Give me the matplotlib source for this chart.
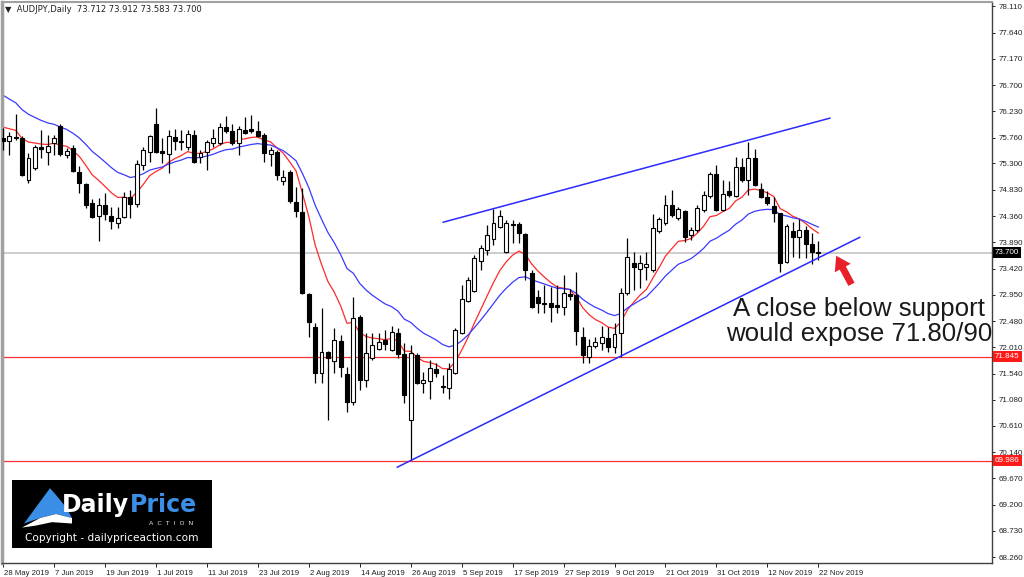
import numpy as np
import matplotlib
matplotlib.use("Agg")
import matplotlib.pyplot as plt
import matplotlib.transforms as mtransforms
from matplotlib.patches import Rectangle, Polygon

# daily AUDJPY candles, 28 May 2019 .. 22 Nov 2019
opens = [75.76, 75.70, 75.77, 75.76, 75.00, 75.22, 75.59, 75.50, 75.67, 75.97,
         75.45, 75.58, 75.15, 74.93, 74.59, 74.36, 74.56, 74.36, 74.24, 74.34,
         74.70, 74.57, 75.27, 75.50, 76.01, 75.52, 75.47, 75.77, 75.70, 75.59,
         75.81, 75.41, 75.50, 75.67, 75.67, 75.95, 75.88, 75.67, 75.90, 75.92,
         75.88, 75.81, 75.47, 75.50, 74.99, 75.15, 74.61, 74.43, 72.97, 72.38,
         71.55, 71.93, 71.77, 72.12, 71.54, 71.03, 72.55, 71.43, 71.82, 71.98,
         72.14, 71.97, 72.27, 71.89, 70.71, 71.87, 71.37, 71.41, 71.62, 71.32,
         71.29, 71.55, 72.27, 72.84, 73.02, 73.56, 73.75, 73.95, 74.16, 73.72,
         74.22, 74.22, 74.04, 73.34, 72.91, 72.80, 72.80, 72.77, 72.73, 72.97,
         72.95, 72.20, 71.84, 72.04, 72.09, 72.18, 72.02, 72.27, 72.98, 73.52,
         73.41, 73.45, 73.40, 74.09, 74.24, 74.56, 74.32, 74.45, 74.02, 74.11,
         74.47, 74.72, 75.11, 74.47, 74.81, 74.72, 75.24, 75.00, 75.40, 74.84,
         74.70, 74.54, 74.41, 73.54, 74.09, 73.99, 74.11, 73.86, 73.712]
highs = [75.94, 75.86, 76.18, 75.79, 75.49, 75.63, 75.90, 75.81, 75.81, 76.01,
         75.58, 75.63, 75.25, 74.95, 74.66, 74.68, 74.77, 74.52, 74.52, 74.79,
         74.83, 75.36, 75.59, 75.81, 76.29, 75.76, 75.90, 75.92, 75.90, 75.90,
         75.90, 75.54, 75.72, 75.92, 76.02, 76.15, 76.01, 75.97, 76.13, 76.17,
         76.06, 75.84, 75.59, 75.54, 75.18, 75.18, 74.88, 74.86, 72.98, 72.45,
         72.72, 71.95, 72.36, 72.23, 71.66, 72.91, 72.59, 72.27, 72.27, 72.27,
         72.32, 72.39, 72.36, 72.09, 72.05, 71.91, 71.57, 71.79, 71.73, 71.52,
         71.73, 72.36, 73.13, 73.27, 73.66, 73.84, 74.20, 74.49, 74.47, 74.29,
         74.29, 74.25, 74.06, 73.40, 73.04, 73.13, 73.09, 73.13, 73.31, 73.06,
         73.36, 72.38, 72.16, 72.20, 72.39, 72.38, 72.45, 73.07, 73.97, 73.72,
         73.66, 73.72, 74.40, 74.34, 74.74, 74.83, 74.52, 74.47, 74.16, 74.56,
         74.81, 75.15, 75.27, 75.00, 74.99, 75.42, 75.40, 75.68, 75.56, 74.95,
         74.81, 74.70, 74.41, 74.22, 74.25, 74.31, 74.18, 74.06, 73.912]
lows = [75.54, 75.45, 75.72, 75.07, 74.95, 75.18, 75.40, 75.27, 75.45, 75.43,
        75.40, 75.15, 74.77, 74.50, 74.32, 73.91, 74.29, 74.13, 74.15, 74.32,
        74.32, 74.52, 75.18, 75.32, 75.49, 75.31, 75.13, 75.54, 75.54, 75.54,
        75.31, 75.31, 75.18, 75.59, 75.63, 75.84, 75.63, 75.45, 75.83, 75.84,
        75.77, 75.32, 75.25, 75.00, 74.92, 74.59, 74.34, 72.97, 72.20, 71.37,
        71.37, 70.71, 71.55, 71.48, 70.86, 70.98, 71.25, 71.30, 71.79, 71.97,
        71.97, 71.95, 71.82, 71.02, 69.99, 71.36, 71.19, 71.09, 71.48, 71.19,
        71.09, 71.54, 72.25, 72.82, 73.00, 73.40, 73.66, 73.84, 74.15, 73.70,
        73.88, 73.88, 73.22, 72.72, 72.63, 72.63, 72.47, 72.63, 72.59, 72.86,
        72.05, 71.73, 71.73, 72.00, 71.97, 71.93, 71.91, 71.84, 72.95, 73.04,
        73.07, 73.22, 73.36, 74.06, 74.20, 74.34, 74.29, 73.90, 73.93, 74.07,
        74.43, 74.68, 74.45, 74.45, 74.70, 74.70, 74.97, 74.74, 74.90, 74.68,
        74.56, 74.25, 73.36, 73.52, 73.63, 73.61, 73.61, 73.50, 73.583]
closes = [75.70, 75.79, 75.76, 75.09, 75.40, 75.59, 75.56, 75.61, 75.76, 75.47,
          75.52, 75.17, 74.95, 74.56, 74.34, 74.56, 74.40, 74.27, 74.32, 74.70,
          74.57, 75.29, 75.54, 75.79, 75.50, 75.49, 75.79, 75.70, 75.68, 75.83,
          75.32, 75.49, 75.68, 75.76, 75.95, 75.88, 75.67, 75.92, 75.84, 75.88,
          75.79, 75.49, 75.54, 75.09, 75.06, 74.63, 74.45, 72.98, 72.47, 71.55,
          71.93, 71.82, 72.14, 71.66, 71.03, 72.54, 71.43, 71.91, 72.05, 72.11,
          72.07, 72.29, 71.89, 71.16, 71.91, 71.37, 71.43, 71.64, 71.55, 71.30,
          71.62, 72.32, 72.88, 73.22, 73.61, 73.79, 74.02, 74.24, 74.36, 74.24,
          74.20, 74.06, 73.40, 72.73, 72.80, 72.79, 72.73, 72.73, 72.98, 72.93,
          72.30, 71.88, 72.04, 72.11, 72.20, 72.02, 72.25, 72.98, 73.63, 73.45,
          73.52, 73.50, 74.15, 74.31, 74.56, 74.38, 74.49, 73.99, 74.11, 74.50,
          74.74, 75.11, 74.47, 74.75, 74.74, 75.24, 75.00, 75.40, 74.92, 74.70,
          74.59, 74.41, 73.52, 74.18, 73.99, 74.11, 73.86, 73.71, 73.700]

# moving averages (EMA 10 red, EMA 20 blue), values at the first bar
ema_fast_period, ema_fast_start = 10, 75.95
ema_slow_period, ema_slow_start = 20, 76.52

date_labels = ["28 May 2019", "7 Jun 2019", "19 Jun 2019", "1 Jul 2019", "11 Jul 2019",
               "23 Jul 2019", "2 Aug 2019", "14 Aug 2019", "26 Aug 2019", "5 Sep 2019",
               "17 Sep 2019", "27 Sep 2019", "9 Oct 2019", "21 Oct 2019", "31 Oct 2019",
               "12 Nov 2019", "22 Nov 2019"]
price_ticks = [78.110, 77.640, 77.170, 76.700, 76.230, 75.760, 75.300, 74.830, 74.360,
               73.890, 73.420, 72.950, 72.480, 72.010, 71.540, 71.080, 70.610, 70.140,
               69.670, 69.200, 68.730, 68.260]

last_price = 73.700
levels = [71.845, 69.986]

# trendlines (bar index, price)
upper_line_x = [69.1, 129.8]
upper_line_y = [74.25, 76.11]
lower_line_x = [61.9, 134.5]
lower_line_y = [69.87, 73.98]


def ema(values, period, start):
    a = 2.0 / (period + 1)
    out = [start]
    for v in values[1:]:
        out.append(out[-1] + a * (v - out[-1]))
    return out


W, H = 1024, 577
fig = plt.figure(figsize=(W / 100, H / 100), dpi=100)
fig.patch.set_facecolor("white")
ax = fig.add_axes([2 / W, 14 / H, 990 / W, 561 / H])

o = np.array(opens)
hi = np.array(highs)
lo = np.array(lows)
c = np.array(closes)
x = np.arange(len(c))

# candles
ax.vlines(x, lo, hi, color="black", lw=0.9, zorder=3)
up = c >= o
body_lo = np.minimum(o, c)
body_h = np.maximum(np.abs(c - o), 0.008)
ax.bar(x[up], body_h[up], bottom=body_lo[up], width=0.62, facecolor="white",
       edgecolor="black", linewidth=0.8, zorder=4)
ax.bar(x[~up], body_h[~up], bottom=body_lo[~up], width=0.62, facecolor="black",
       edgecolor="black", linewidth=0.8, zorder=4)

# moving averages
ax.plot(x, ema(closes, ema_fast_period, ema_fast_start), color="#ff2a2a", lw=0.9, zorder=2)
ax.plot(x, ema(closes, ema_slow_period, ema_slow_start), color="#3a3aff", lw=0.9, zorder=2)

# horizontal levels
ax.axhline(last_price, color="#c8c8c8", lw=1.3, zorder=1)
for lv in levels:
    ax.axhline(lv, color="#ff3030", lw=0.9, zorder=1)

# trendlines
ax.plot(upper_line_x, upper_line_y, color="#2a2aff", lw=1.1, zorder=5)
ax.plot(lower_line_x, lower_line_y, color="#2a2aff", lw=1.1, zorder=5)

ax.set_xlim(-0.16, 155.26)
ax.set_ylim(68.157, 78.187)

# axes styling
for s in ["left", "top"]:
    ax.spines[s].set_color("#a0a0a0")
ax.spines["left"].set_linewidth(2.5)
ax.spines["top"].set_linewidth(1.5)
for s in ["right", "bottom"]:
    ax.spines[s].set_color("#404040")
    ax.spines[s].set_linewidth(1.0)

tick_font = "Liberation Sans"
ax.yaxis.tick_right()
ax.set_yticks(price_ticks)
ax.set_yticklabels(["%.3f" % p for p in price_ticks], family=tick_font)
ax.tick_params(axis="y", length=2.5, width=0.7, labelsize=5.8, pad=2, colors="#202020")

ax.set_xticks(np.arange(0, 8 * len(date_labels), 8))
ax.set_xticklabels(date_labels, family=tick_font)
ax.tick_params(axis="x", length=3, width=0.7, labelsize=5.6, pad=2, colors="#202020")
off = mtransforms.ScaledTranslation(1 / 100, 0, fig.dpi_scale_trans)
for lab in ax.get_xticklabels():
    lab.set_ha("left")
    lab.set_transform(lab.get_transform() + off)

# price boxes on the right axis
blend = mtransforms.blended_transform_factory(ax.transAxes, ax.transData)
ax.text(1.003, last_price, "%.3f" % last_price, transform=blend, ha="left", va="center",
        fontsize=5.8, family=tick_font, color="white",
        bbox=dict(boxstyle="square,pad=0.25", fc="black", ec="none"), zorder=10)
for lv in levels:
    ax.text(1.003, lv, "%.3f" % lv, transform=blend, ha="left", va="center",
            fontsize=5.8, family=tick_font, color="white",
            bbox=dict(boxstyle="square,pad=0.25", fc="#ff1a1a", ec="none"), zorder=10)

# header
fig.text(5 / W, 1 - 9 / H, "\u25BC  AUDJPY,Daily  %.3f %.3f %.3f %.3f"
         % (opens[-1], highs[-1], lows[-1], closes[-1]),
         fontsize=6, ha="left", va="center", color="#202020")

# annotation
ax.text(134.4, 72.48, "A close below support\nwould expose 71.80/90", ha="center",
        va="center", fontsize=18.6, family="Liberation Sans", color="#1a1a1a",
        linespacing=1.05, zorder=6)
ax.annotate("", xy=(130.8, 73.65), xytext=(133.2, 73.14),
            arrowprops=dict(facecolor="#e8202a", edgecolor="none", width=5,
                            headwidth=13, headlength=10, shrink=0), zorder=6)

# logo box
lg = fig.add_axes([12 / W, 29 / H, 200 / W, 68 / H])
lg.axis("off")
lg.set_xlim(0, 1)
lg.set_ylim(0, 1)
lg.add_patch(Rectangle((0, 0), 1, 1, facecolor="black", edgecolor="none"))
lg.add_patch(Polygon([(0.06, 0.36), (0.12, 0.60), (0.19, 0.88), (0.22, 0.78), (0.27, 0.60),
                      (0.30, 0.44), (0.22, 0.50), (0.14, 0.44)], closed=True,
                     facecolor="#3a8ee6", edgecolor="none"))
lg.add_patch(Polygon([(0.05, 0.30), (0.14, 0.44), (0.22, 0.50), (0.30, 0.44), (0.30, 0.36),
                      (0.20, 0.38), (0.12, 0.33)], closed=True,
                     facecolor="white", edgecolor="none"))
lg.text(0.25, 0.63, "Daily", color="white", fontsize=17, fontweight="bold",
        ha="left", va="center")
lg.text(0.59, 0.63, "Price", color="#3a8ee6", fontsize=17, fontweight="bold",
        ha="left", va="center")
lg.text(0.905, 0.36, "A  C  T  I  O  N", color="#e0e0e0", fontsize=4.6, ha="right",
        va="center")
lg.text(0.5, 0.14, "Copyright - dailypriceaction.com", color="white", fontsize=7.6,
        ha="center", va="center")

fig.savefig("out.png", dpi=100, facecolor="white")
